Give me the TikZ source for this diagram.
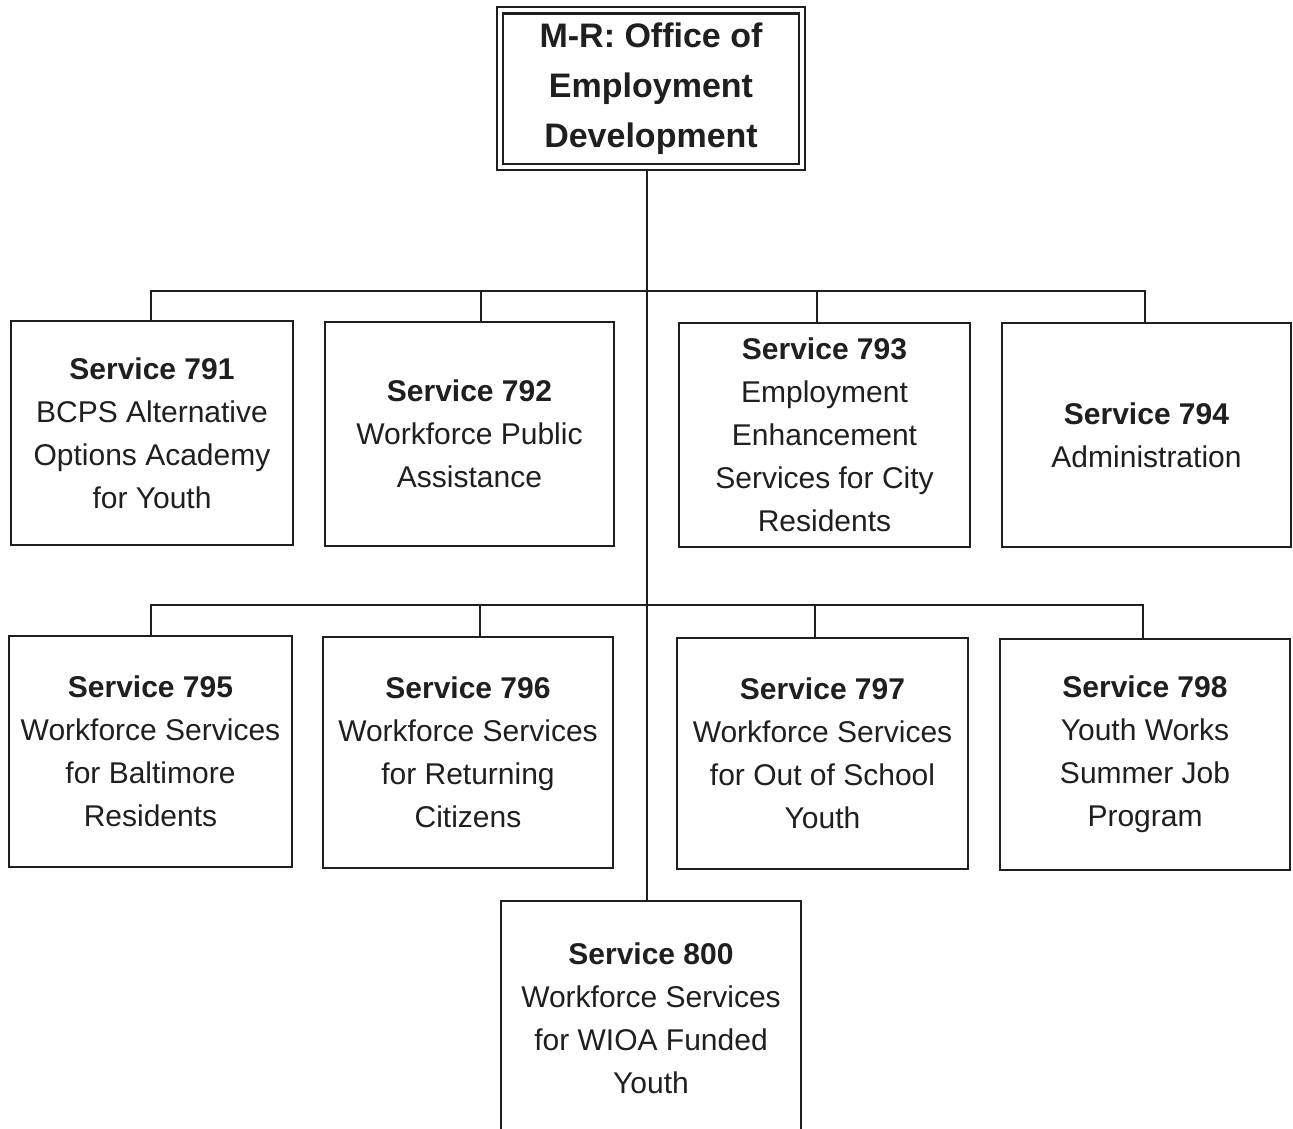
\documentclass[tikz,border=0pt]{standalone}
\usepackage{fontspec}
\setmainfont{Liberation Sans}
\begin{document}
\begin{tikzpicture}[x=0.5pt,y=-0.5pt,
  box/.style={draw=black!88, line width=1.4pt, align=center, inner sep=0pt,
    font=\fontsize{15pt}{21.5pt}\selectfont, text=black!88},
  wire/.style={draw=black!88, line width=1.4pt}]
\useasboundingbox (0,0) rectangle (1293,1128);
% top box
\node[box, minimum width=154pt, minimum height=81.5pt,
  font=\fontsize{17pt}{25pt}\selectfont\bfseries] (top) at (651,88.5)
  {M-R: Office of\\Employment\\Development};
\draw[black!88, line width=1.2pt] (503,13.5) rectangle (799,164);
% row 1
\node[box, minimum width=141pt, minimum height=112pt] (s791) at (152,433)
  {\textbf{Service 791}\\BCPS Alternative\\Options Academy\\for Youth};
\node[box, minimum width=144.5pt, minimum height=112pt] (s792) at (469.5,434)
  {\textbf{Service 792}\\Workforce Public\\Assistance};
\node[box, minimum width=145.5pt, minimum height=112pt] (s793) at (824.5,435)
  {\textbf{Service 793}\\Employment\\Enhancement\\Services for City\\Residents};
\node[box, minimum width=144.5pt, minimum height=112pt] (s794) at (1146.5,435)
  {\textbf{Service 794}\\Administration};
% row 2
\node[box, minimum width=141.5pt, minimum height=115.5pt] (s795) at (150.5,751.5)
  {\textbf{Service 795}\\Workforce Services\\for Baltimore\\Residents};
\node[box, minimum width=145pt, minimum height=115.5pt] (s796) at (468,752.5)
  {\textbf{Service 796}\\Workforce Services\\for Returning\\Citizens};
\node[box, minimum width=145.5pt, minimum height=115.5pt] (s797) at (822.5,753.5)
  {\textbf{Service 797}\\Workforce Services\\for Out of School\\Youth};
\node[box, minimum width=145pt, minimum height=115.5pt] (s798) at (1145,754.5)
  {\textbf{Service 798}\\Youth Works\\Summer Job\\Program};
% bottom
\node[box, minimum width=150pt, minimum height=117pt] (s800) at (651,1018)
  {\textbf{Service 800}\\Workforce Services\\for WIOA Funded\\Youth};
% connectors
\coordinate (b1) at (647,291);
\coordinate (b2) at (647,605);
\coordinate (d791) at (151,291);
\coordinate (d792) at (481,291);
\coordinate (d793) at (817,291);
\coordinate (d794) at (1145,291);
\coordinate (d795) at (151,605);
\coordinate (d796) at (480,605);
\coordinate (d797) at (815,605);
\coordinate (d798) at (1143,605);
\draw[wire] (top.south -| b1) -- (s800.north -| b1);
\draw[wire] (d791 |- s791.north) -- (d791) -- (d794) -- (d794 |- s794.north);
\draw[wire] (d792) -- (d792 |- s792.north);
\draw[wire] (d793) -- (d793 |- s793.north);
\draw[wire] (d795 |- s795.north) -- (d795) -- (d798) -- (d798 |- s798.north);
\draw[wire] (d796) -- (d796 |- s796.north);
\draw[wire] (d797) -- (d797 |- s797.north);
\end{tikzpicture}
\end{document}
